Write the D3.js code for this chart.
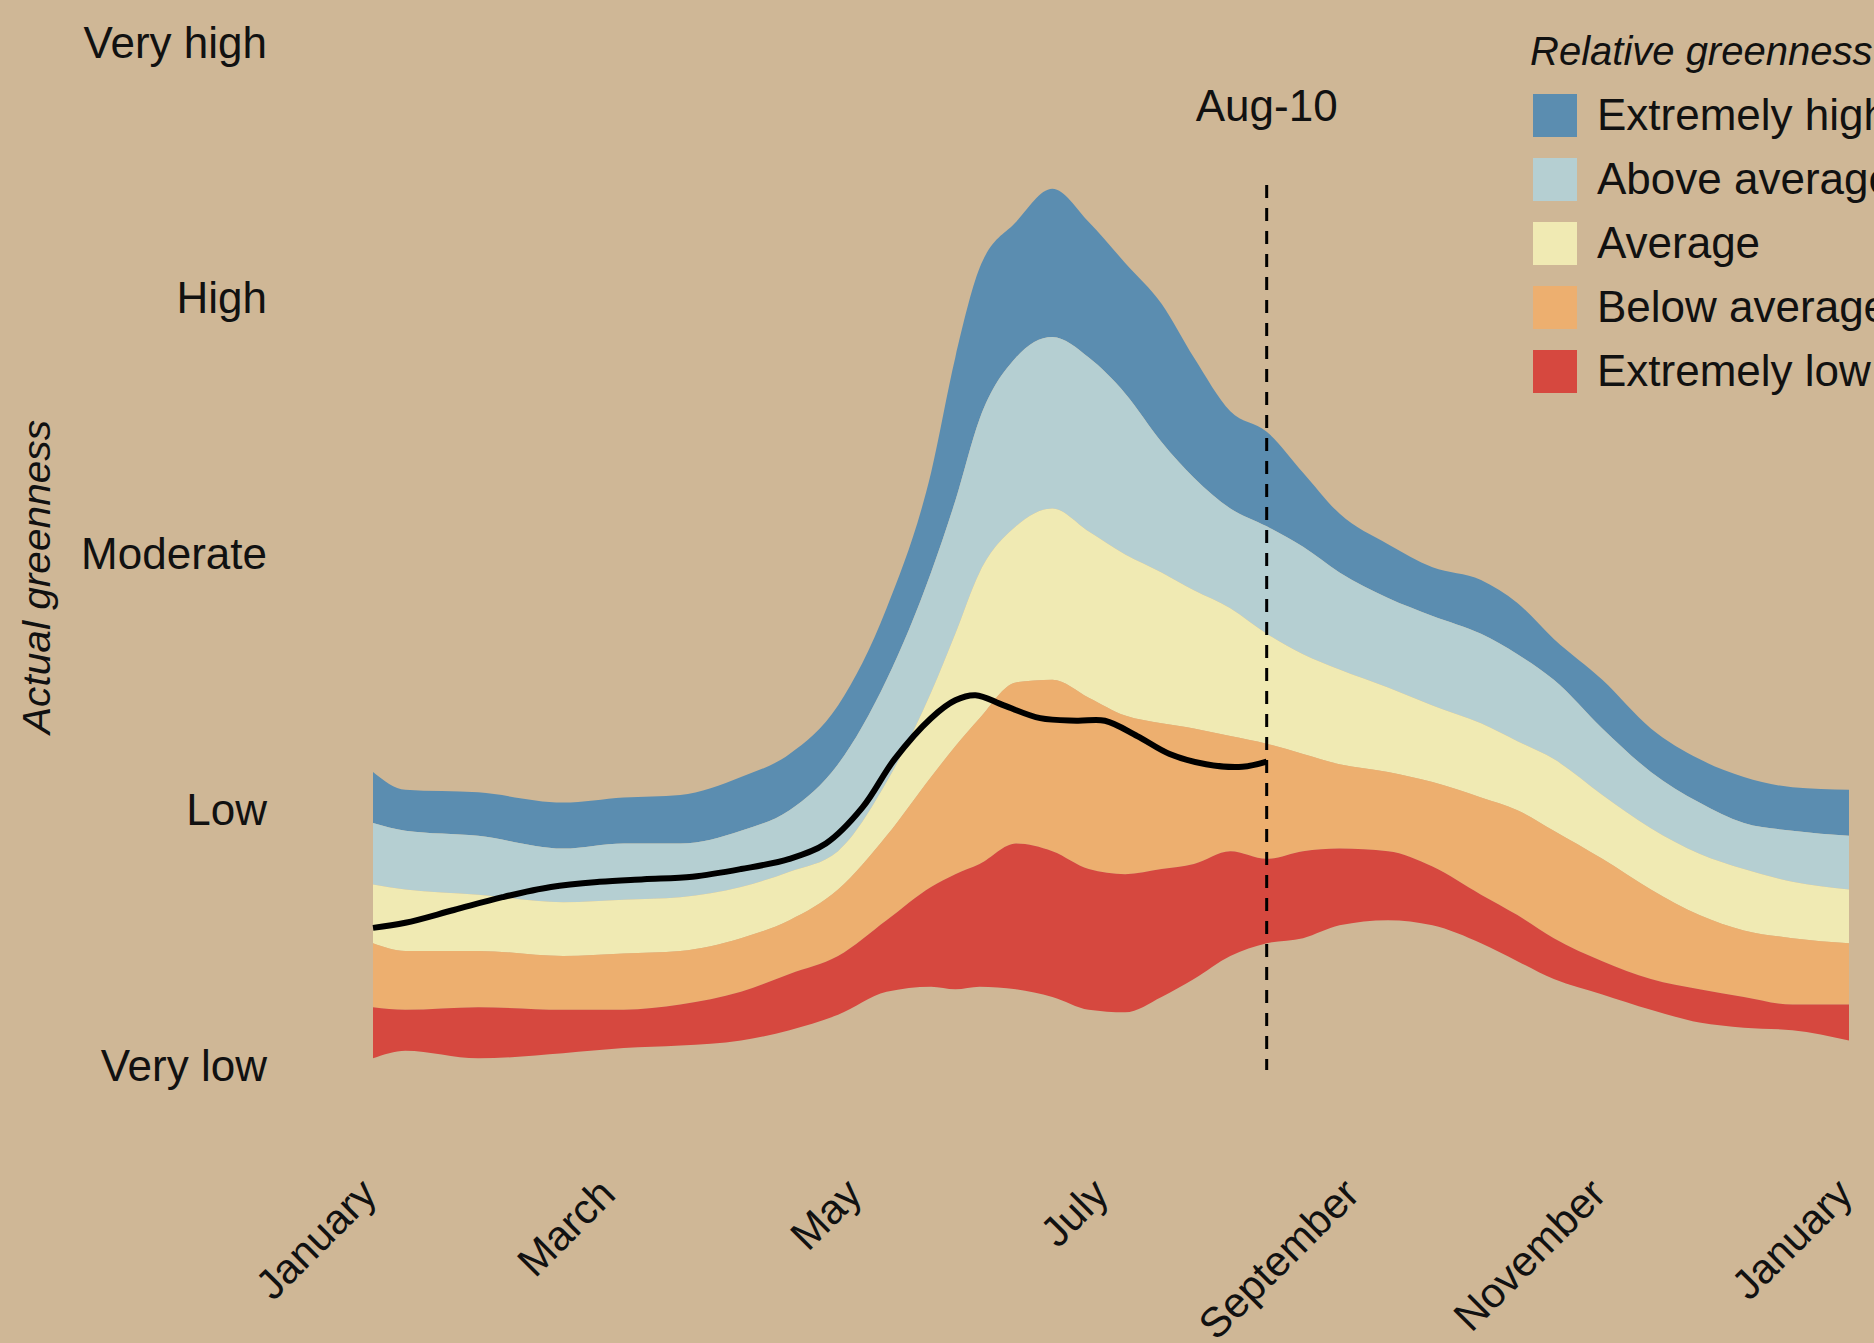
<!DOCTYPE html>
<html>
<head>
<meta charset="utf-8">
<script src="https://cdn.jsdelivr.net/npm/d3@7"></script>
<style>
  body { margin: 0; background: #cfb796; }
  svg { display: block; font-family: "Liberation Sans", Arial, sans-serif; }
</style>
</head>
<body>
<div id="chart"></div>
<script>
// day of year for the band boundaries
const days = [0, 8, 26, 47, 62, 76, 91, 103, 115, 127, 138, 144, 150, 159, 168, 177, 186, 195,
  203, 212, 221, 230, 239, 251, 262, 274, 283, 292, 304, 316, 328, 339, 351, 365];

// boundaries between relative greenness classes (0 = very low ... 4 = very high)
const topExtremeHigh = [1.15, 1.08, 1.07, 1.03, 1.05, 1.06, 1.13, 1.22, 1.41, 1.79, 2.32, 2.77, 3.12, 3.30,
  3.43, 3.30, 3.14, 2.98, 2.77, 2.56, 2.48, 2.32, 2.16, 2.04, 1.95, 1.90, 1.81, 1.67, 1.51, 1.32, 1.20, 1.13, 1.09, 1.08];
const topAboveAvg = [0.95, 0.92, 0.90, 0.85, 0.87, 0.87, 0.92, 1.00, 1.18, 1.51, 1.93, 2.21, 2.53, 2.77,
  2.85, 2.77, 2.63, 2.44, 2.30, 2.18, 2.11, 2.03, 1.93, 1.83, 1.76, 1.69, 1.61, 1.51, 1.32, 1.15, 1.03, 0.95, 0.92, 0.90];
const topAverage = [0.71, 0.69, 0.67, 0.64, 0.65, 0.66, 0.70, 0.76, 0.84, 1.11, 1.46, 1.69, 1.93, 2.11,
  2.18, 2.09, 2.00, 1.93, 1.86, 1.79, 1.69, 1.61, 1.55, 1.48, 1.41, 1.34, 1.27, 1.20, 1.06, 0.93, 0.83, 0.77, 0.72, 0.69];
const topBelowAvg = [0.48, 0.45, 0.45, 0.43, 0.44, 0.45, 0.50, 0.57, 0.69, 0.90, 1.13, 1.25, 1.36, 1.50,
  1.51, 1.44, 1.37, 1.34, 1.32, 1.29, 1.26, 1.22, 1.18, 1.15, 1.11, 1.05, 1.00, 0.92, 0.81, 0.69, 0.59, 0.53, 0.50, 0.48];
const topExtremeLow = [0.23, 0.22, 0.23, 0.22, 0.22, 0.24, 0.29, 0.36, 0.43, 0.57, 0.70, 0.75, 0.79, 0.87,
  0.84, 0.77, 0.75, 0.77, 0.79, 0.84, 0.81, 0.84, 0.85, 0.84, 0.78, 0.67, 0.59, 0.50, 0.41, 0.34, 0.30, 0.27, 0.24, 0.24];
const bottomExtremeLow = [0.03, 0.06, 0.03, 0.05, 0.07, 0.08, 0.10, 0.14, 0.20, 0.29, 0.31, 0.30, 0.31, 0.30,
  0.27, 0.22, 0.21, 0.27, 0.34, 0.43, 0.48, 0.50, 0.55, 0.57, 0.55, 0.48, 0.41, 0.34, 0.28, 0.22, 0.17, 0.15, 0.14, 0.10];

// this year's actual greenness, up to Aug-10
const curDays = [0, 8, 20, 32, 44, 56, 67, 79, 91, 103, 112, 121, 129, 138, 144, 149, 156, 165, 174, 181,
  189, 197, 206, 215, 221];
const curValues = [0.54, 0.56, 0.61, 0.66, 0.70, 0.72, 0.73, 0.74, 0.77, 0.81, 0.87, 1.01, 1.20, 1.36, 1.43,
  1.45, 1.41, 1.36, 1.35, 1.35, 1.29, 1.22, 1.18, 1.17, 1.19];

const classNames = ["Extremely high", "Above average", "Average", "Below average", "Extremely low"];
const classColors = ["#5b8db0", "#b5cfd2", "#f0eab3", "#edaf6f", "#d6483f"];
const levelLabels = ["Very low", "Low", "Moderate", "High", "Very high"];
const monthTicks = [0, 59, 120, 181, 243, 304, 365];
const monthLabels = ["January", "March", "May", "July", "September", "November", "January"];
const markerDay = 221;
const markerLabel = "Aug-10";

const width = 1874, height = 1343;
const bounds = [topExtremeHigh, topAboveAvg, topAverage, topBelowAvg, topExtremeLow, bottomExtremeLow];

const svg = d3.select("#chart").append("svg")
  .attr("width", width)
  .attr("height", height);

svg.append("rect").attr("width", width).attr("height", height).attr("fill", "#cfb796");

const x = d3.scaleLinear().domain([0, 365]).range([373, 1849]);
const y = d3.scaleLinear().domain([0, 4]).range([1066, 43]);

// stacked bands
classNames.forEach((name, i) => {
  const area = d3.area()
    .x((d, j) => x(days[j]))
    .y0((d, j) => y(bounds[i + 1][j]))
    .y1((d, j) => y(bounds[i][j]))
    .curve(d3.curveMonotoneX);
  svg.append("path")
    .datum(days)
    .attr("fill", classColors[i])
    .attr("d", area);
});

// current year line
const line = d3.line()
  .x(d => x(d[0]))
  .y(d => y(d[1]))
  .curve(d3.curveCatmullRom.alpha(0.5));
svg.append("path")
  .datum(curDays.map((d, i) => [d, curValues[i]]))
  .attr("fill", "none")
  .attr("stroke", "#000")
  .attr("stroke-width", 6)
  .attr("stroke-linecap", "butt")
  .attr("d", line);

// marker line for the latest date
svg.append("line")
  .attr("x1", x(markerDay)).attr("x2", x(markerDay))
  .attr("y1", 185).attr("y2", 1070)
  .attr("stroke", "#000")
  .attr("stroke-width", 3)
  .attr("stroke-dasharray", "13,10");
svg.append("text")
  .attr("x", x(markerDay))
  .attr("y", 121)
  .attr("text-anchor", "middle")
  .attr("font-size", 44)
  .attr("fill", "#111")
  .text(markerLabel);

// y axis
const yAxis = d3.axisLeft(y)
  .tickValues([0, 1, 2, 3, 4])
  .tickFormat(d => levelLabels[d])
  .tickSize(0)
  .tickPadding(0);
const yAxisG = svg.append("g")
  .attr("transform", "translate(267,0)")
  .call(yAxis);
yAxisG.select(".domain").remove();
yAxisG.selectAll("text")
  .attr("font-size", 44)
  .attr("font-family", "Liberation Sans, Arial, sans-serif")
  .attr("fill", "#111");

svg.append("text")
  .attr("transform", "translate(50,577) rotate(-90)")
  .attr("text-anchor", "middle")
  .attr("font-size", 38)
  .attr("font-style", "italic")
  .attr("textLength", 314)
  .attr("lengthAdjust", "spacingAndGlyphs")
  .attr("fill", "#111")
  .text("Actual greenness");

// x axis
const xAxis = d3.axisBottom(x)
  .tickValues(monthTicks)
  .tickFormat((d, i) => monthLabels[i])
  .tickSize(0);
const xAxisG = svg.append("g")
  .attr("transform", "translate(0,1186)")
  .call(xAxis);
xAxisG.select(".domain").remove();
xAxisG.selectAll("text")
  .attr("font-size", 42)
  .attr("font-family", "Liberation Sans, Arial, sans-serif")
  .attr("fill", "#111")
  .attr("text-anchor", "end")
  .attr("dy", "0.35em")
  .attr("y", 0)
  .attr("transform", "translate(-5,0) rotate(-45)");

// legend
const legend = svg.append("g").attr("transform", "translate(1530,0)");
legend.append("text")
  .attr("x", 0).attr("y", 65)
  .attr("font-size", 40)
  .attr("font-style", "italic")
  .attr("fill", "#111")
  .text("Relative greenness");
classNames.forEach((name, i) => {
  const row = legend.append("g").attr("transform", `translate(3,${94 + i * 64})`);
  row.append("rect")
    .attr("width", 44).attr("height", 43)
    .attr("fill", classColors[i]);
  row.append("text")
    .attr("x", 64).attr("y", 36)
    .attr("font-size", 44)
    .attr("fill", "#111")
    .text(name);
});
</script>
</body>
</html>
